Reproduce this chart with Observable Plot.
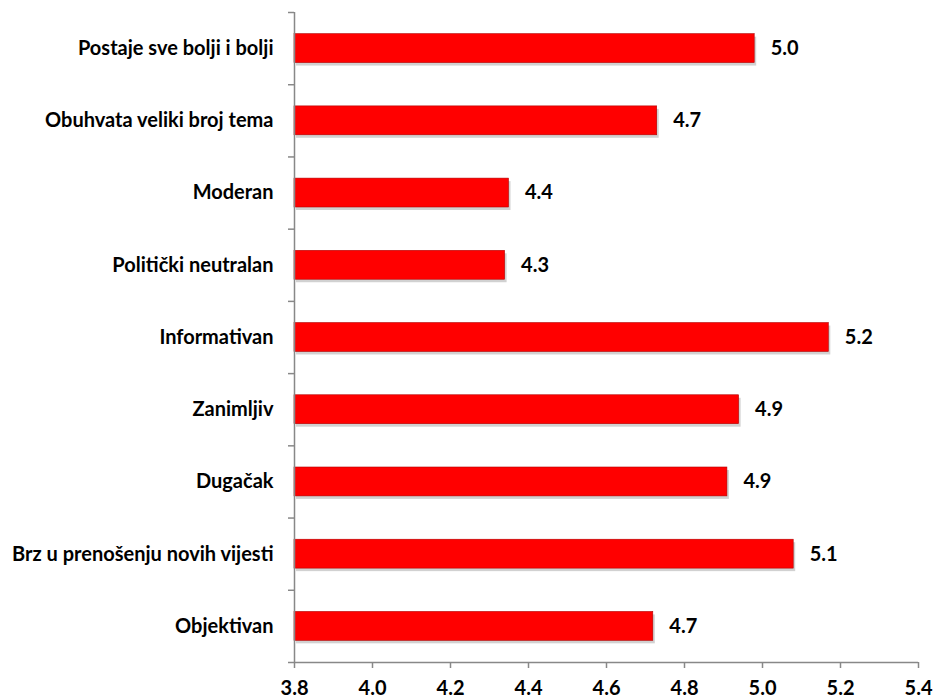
<!DOCTYPE html>
<html>
<head>
<meta charset="utf-8">
<script src="https://cdn.jsdelivr.net/npm/d3@7"></script>
<script src="https://cdn.jsdelivr.net/npm/@observablehq/plot@0.6"></script>
<style>
  html, body { margin: 0; padding: 0; background: #fff; }
  #chart svg { font-family: Lato, "Open Sans", sans-serif; }
</style>
</head>
<body>
<div id="chart"></div>
<script>
const categories = [
  "Postaje sve bolji i bolji",
  "Obuhvata veliki broj tema",
  "Moderan",
  "Politički neutralan",
  "Informativan",
  "Zanimljiv",
  "Dugačak",
  "Brz u prenošenju novih vijesti",
  "Objektivan"
];
const values = [4.98, 4.73, 4.35, 4.34, 5.17, 4.94, 4.91, 5.08, 4.72];
const valueLabels = ["5.0", "4.7", "4.4", "4.3", "5.2", "4.9", "4.9", "5.1", "4.7"];
const xTicks = [3.8, 4.0, 4.2, 4.4, 4.6, 4.8, 5.0, 5.2, 5.4];

const rows = categories.map((c, i) => ({i, category: c, value: values[i], label: valueLabels[i]}));
const half = 0.2;
const axisColor = "#888888";

const chart = Plot.plot({
  width: 933,
  height: 698,
  marginTop: 12,
  marginBottom: 36,
  marginLeft: 294,
  marginRight: 15,
  x: {domain: [3.8, 5.4], label: null},
  y: {domain: [-0.5, categories.length - 0.5], reverse: true, label: null},
  marks: [
    // shadow
    Plot.rectX(rows, {x1: 3.8, x2: "value", y1: d => d.i - half, y2: d => d.i + half,
      fill: "#9a9a9a", fillOpacity: 0.45, dx: 2, dy: 3}),
    Plot.rectX(rows, {x1: 3.8, x2: "value", y1: d => d.i - half, y2: d => d.i + half,
      fill: "#ff0000", stroke: "#b40000", strokeWidth: 0.6}),
    Plot.text(rows, {x: "value", y: "i", text: "label", dx: 16, textAnchor: "start",
      fontWeight: "bold", fontSize: 20, fill: "#000"}),
    Plot.ruleX([3.8], {stroke: axisColor, strokeWidth: 1.5}),
    Plot.ruleY([categories.length - 0.5], {stroke: axisColor, strokeWidth: 1.5}),
    Plot.axisY({ticks: d3.range(-0.5, categories.length, 1), tickSize: 6, tickFormat: () => "",
      stroke: axisColor, strokeWidth: 1.5, label: null}),
    Plot.axisY({ticks: d3.range(0, categories.length), tickSize: 0, tickPadding: 21,
      tickFormat: i => categories[i], fontWeight: "bold", fontSize: 20, fill: "#000", label: null}),
    Plot.axisX({ticks: xTicks, tickSize: 6, tickPadding: 12, tickFormat: d3.format(".1f"),
      fontWeight: "bold", fontSize: 20, fill: "#000", stroke: axisColor, strokeWidth: 1.5, label: null})
  ]
});
document.getElementById("chart").appendChild(chart);
</script>
</body>
</html>
